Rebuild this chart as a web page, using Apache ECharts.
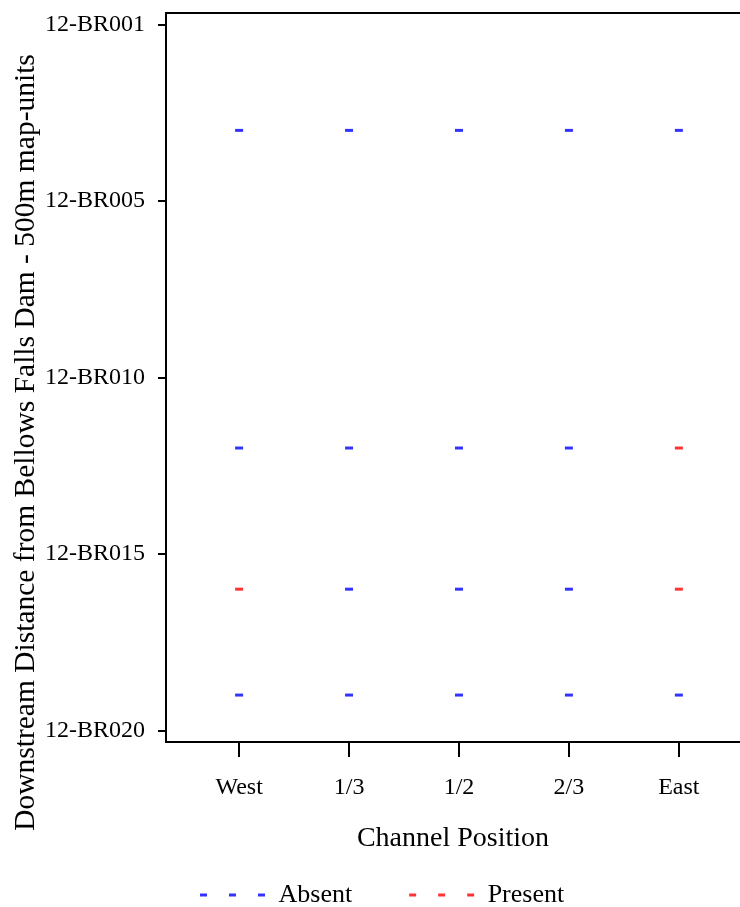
<!DOCTYPE html>
<html>
<head>
<meta charset="UTF-8">
<title>Channel Position</title>
<script src="https://cdn.jsdelivr.net/npm/echarts@6/dist/echarts.min.js"></script>
<style>
  html, body { margin: 0; padding: 0; background: #fff; }
  #main { width: 740px; height: 907px; }
</style>
</head>
<body>
<div id="main"></div>
<script>
// channel positions across the river (x = 1..5)
var positions = ['West', '1/3', '1/2', '2/3', 'East'];
// y tick values and their site labels
var siteTicks = [0, 5, 10, 15, 20];
var siteLabels = ['12-BR001', '12-BR005', '12-BR010', '12-BR015', '12-BR020'];
// sampled rows (downstream distance) and detection per position, 1 = present
var sampleRows = [3, 12, 16, 19];
var detectRow3 = [0, 0, 0, 0, 0];
var detectRow12 = [0, 0, 0, 0, 1];
var detectRow16 = [1, 0, 0, 0, 1];
var detectRow19 = [0, 0, 0, 0, 0];
var detections = [detectRow3, detectRow12, detectRow16, detectRow19];

var absent = [], present = [];
for (var r = 0; r < sampleRows.length; r++) {
  for (var c = 0; c < positions.length; c++) {
    var pt = [c + 1, sampleRows[r]];
    if (detections[r][c]) present.push(pt); else absent.push(pt);
  }
}

var font = "'Liberation Serif', 'Times New Roman', serif";
var dashIcon = 'path://M0,0h7v3h-7z M29,0h7v3h-7z M58,0h7v3h-7z';

var myChart = echarts.init(document.getElementById('main'));
var option = {
  animation: false,
  textStyle: { fontFamily: font, color: '#000' },
  grid: { left: 166, right: 0, top: 13, bottom: 165, outerBoundsMode: 'none', containLabel: false },
  legend: {
    left: 195,
    top: 877,
    itemWidth: 66,
    itemHeight: 3,
    itemGap: 57,
    textStyle: { fontFamily: font, fontSize: 26, color: '#000', padding: [0, 0, 0, 8] },
    data: [
      { name: 'Absent', icon: dashIcon },
      { name: 'Present', icon: dashIcon }
    ]
  },
  xAxis: [{
    type: 'value',
    min: 0.335,
    max: 5.556,
    splitLine: { show: false },
    axisLine: { show: true, onZero: false, lineStyle: { color: '#000', width: 2 } },
    axisTick: { show: true, length: 15, customValues: [1, 2, 3, 4, 5], lineStyle: { color: '#000', width: 2 } },
    axisLabel: {
      customValues: [1, 2, 3, 4, 5],
      margin: 34,
      fontSize: 24,
      fontFamily: font,
      color: '#000',
      formatter: function (v) { return positions[Math.round(v) - 1] || ''; }
    },
    name: 'Channel Position',
    nameLocation: 'middle',
    nameGap: 83,
    nameMoveOverlap: false,
    nameTextStyle: { fontFamily: font, fontSize: 28, color: '#000' }
  }, {
    type: 'value',
    position: 'top',
    min: 0.335,
    max: 5.556,
    splitLine: { show: false },
    axisLine: { show: true, onZero: false, lineStyle: { color: '#000', width: 2 } },
    axisTick: { show: false },
    axisLabel: { show: false }
  }],
  yAxis: {
    type: 'value',
    inverse: true,
    min: -0.326,
    max: 20.33,
    splitLine: { show: false },
    axisLine: { show: true, onZero: false, lineStyle: { color: '#000', width: 2 } },
    axisTick: { show: true, length: 8, customValues: siteTicks, lineStyle: { color: '#000', width: 2 } },
    axisLabel: {
      customValues: siteTicks,
      margin: 21,
      fontSize: 24,
      fontFamily: font,
      color: '#000',
      formatter: function (v) { return siteLabels[siteTicks.indexOf(Math.round(v))] || ''; }
    },
    name: 'Downstream Distance from Bellows Falls Dam - 500m map-units',
    nameLocation: 'middle',
    nameGap: 125,
    nameMoveOverlap: false,
    nameTextStyle: { fontFamily: font, fontSize: 29.5, color: '#000', padding: [0, 130, 0, 0] }
  },
  series: [{
    name: 'Absent',
    type: 'scatter',
    symbol: 'rect',
    symbolSize: [8, 3],
    itemStyle: { color: '#0000ff' },
    data: absent
  }, {
    name: 'Present',
    type: 'scatter',
    symbol: 'rect',
    symbolSize: [8, 3],
    itemStyle: { color: '#ff0000' },
    data: present
  }]
};
myChart.setOption(option);
</script>
</body>
</html>
